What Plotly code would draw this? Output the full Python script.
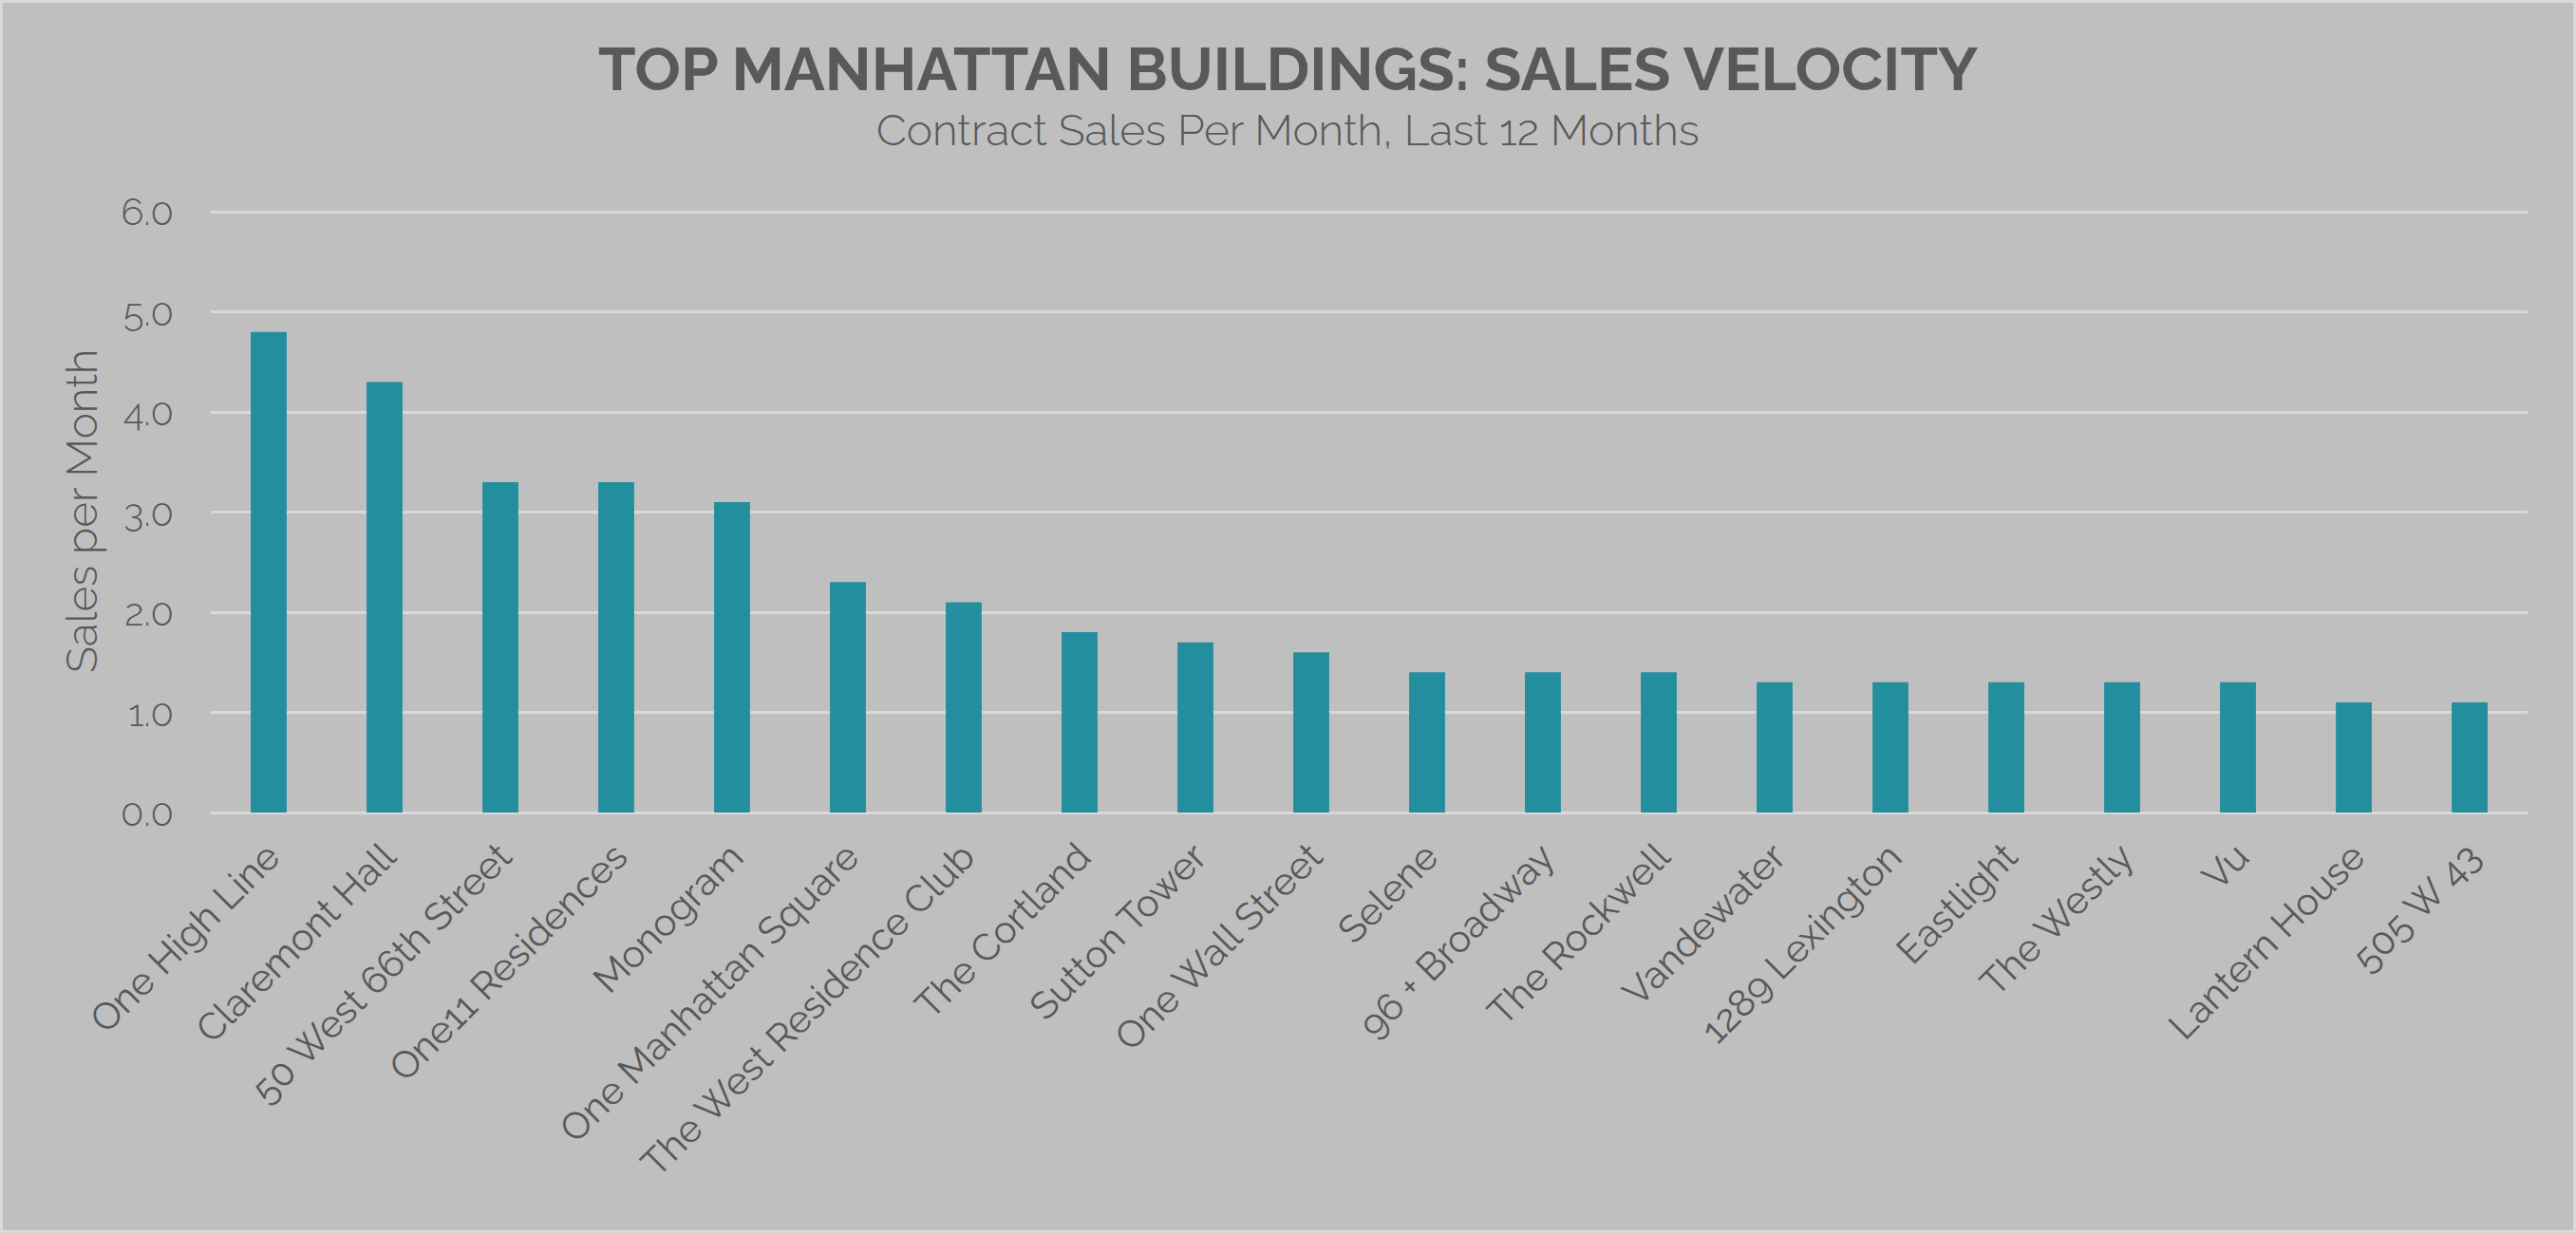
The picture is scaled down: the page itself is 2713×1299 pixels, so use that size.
import plotly.graph_objects as go

# Buildings and their contract sales per month (last 12 months)
buildings = [
    "One High Line", "Claremont Hall", "50 West 66th Street", "One11 Residences",
    "Monogram", "One Manhattan Square", "The West Residence Club", "The Cortland",
    "Sutton Tower", "One Wall Street", "Selene", "96 + Broadway", "The Rockwell",
    "Vandewater", "1289 Lexington", "Eastlight", "The Westly", "Vu",
    "Lantern House", "505 W 43",
]
sales_per_month = [
    4.8, 4.3, 3.3, 3.3, 3.1, 2.3, 2.1, 1.8, 1.7, 1.6,
    1.4, 1.4, 1.4, 1.3, 1.3, 1.3, 1.3, 1.3, 1.1, 1.1,
]
y_ticks = [0, 1, 2, 3, 4, 5, 6]

W, H = 2713, 1299
ML, MR, MT, MB = 222, 51, 222, 443
PW, PH = W - ML - MR, H - MT - MB

TEXT = "#595959"
FONT = "Raleway, Lato, sans-serif"

fig = go.Figure()

fig.add_trace(go.Bar(
    x=buildings,
    y=sales_per_month,
    marker=dict(color="#238E9E", line=dict(width=0)),
    hoverinfo="x+y",
))

# title + subtitle as annotations so they sit where the original has them
fig.add_annotation(
    text="<b>TOP MANHATTAN BUILDINGS: SALES VELOCITY</b>",
    xref="paper", yref="paper", x=(W / 2 - ML) / PW, y=(H - MB - 73) / PH,
    xanchor="center", yanchor="middle", showarrow=False,
    font=dict(family=FONT, size=64, color=TEXT),
)
fig.add_annotation(
    text="Contract Sales Per Month, Last 12 Months",
    xref="paper", yref="paper", x=(W / 2 - ML) / PW, y=(H - MB - 137) / PH,
    xanchor="center", yanchor="middle", showarrow=False,
    font=dict(family=FONT, size=46, color=TEXT, weight=300),
)
# y axis title
fig.add_annotation(
    text="Sales per Month",
    xref="paper", yref="paper", x=(86 - ML) / PW, y=0.5,
    xanchor="center", yanchor="middle", showarrow=False, textangle=-90,
    font=dict(family=FONT, size=46, color=TEXT, weight=300),
)

# light frame around the whole picture
fig.add_shape(
    type="rect", xref="paper", yref="paper",
    x0=(1.5 - ML) / PW, x1=(W - 1.5 - ML) / PW,
    y0=(1.5 - MB) / PH, y1=(H - 1.5 - MB) / PH,
    line=dict(color="#D9D9D9", width=3), layer="below",
)

fig.update_layout(
    width=W, height=H,
    margin=dict(l=ML, r=MR, t=MT, b=MB, autoexpand=False),
    paper_bgcolor="#BFBFBF",
    plot_bgcolor="#BFBFBF",
    bargap=0.69,
    showlegend=False,
    font=dict(family=FONT, color=TEXT),
    xaxis=dict(
        tickangle=-45,
        tickfont=dict(family=FONT, size=40, color=TEXT),
        showgrid=False,
        showline=False,
        ticks="",
        ticklabelstandoff=14,
        fixedrange=True,
    ),
    yaxis=dict(
        range=[0, 6.01],
        tickvals=y_ticks,
        tickformat=".1f",
        tickfont=dict(family=FONT, size=40, color=TEXT, weight=300),
        showgrid=True,
        gridcolor="#D9D9D9",
        gridwidth=3,
        zeroline=True,
        zerolinecolor="#D9D9D9",
        zerolinewidth=3,
        showline=False,
        ticks="",
        ticklabelstandoff=38,
        fixedrange=True,
    ),
)

fig.write_html(
    "out.html",
    config={"displayModeBar": False},
    post_script="document.body.style.margin='0px';document.body.style.overflow='hidden';",
)
